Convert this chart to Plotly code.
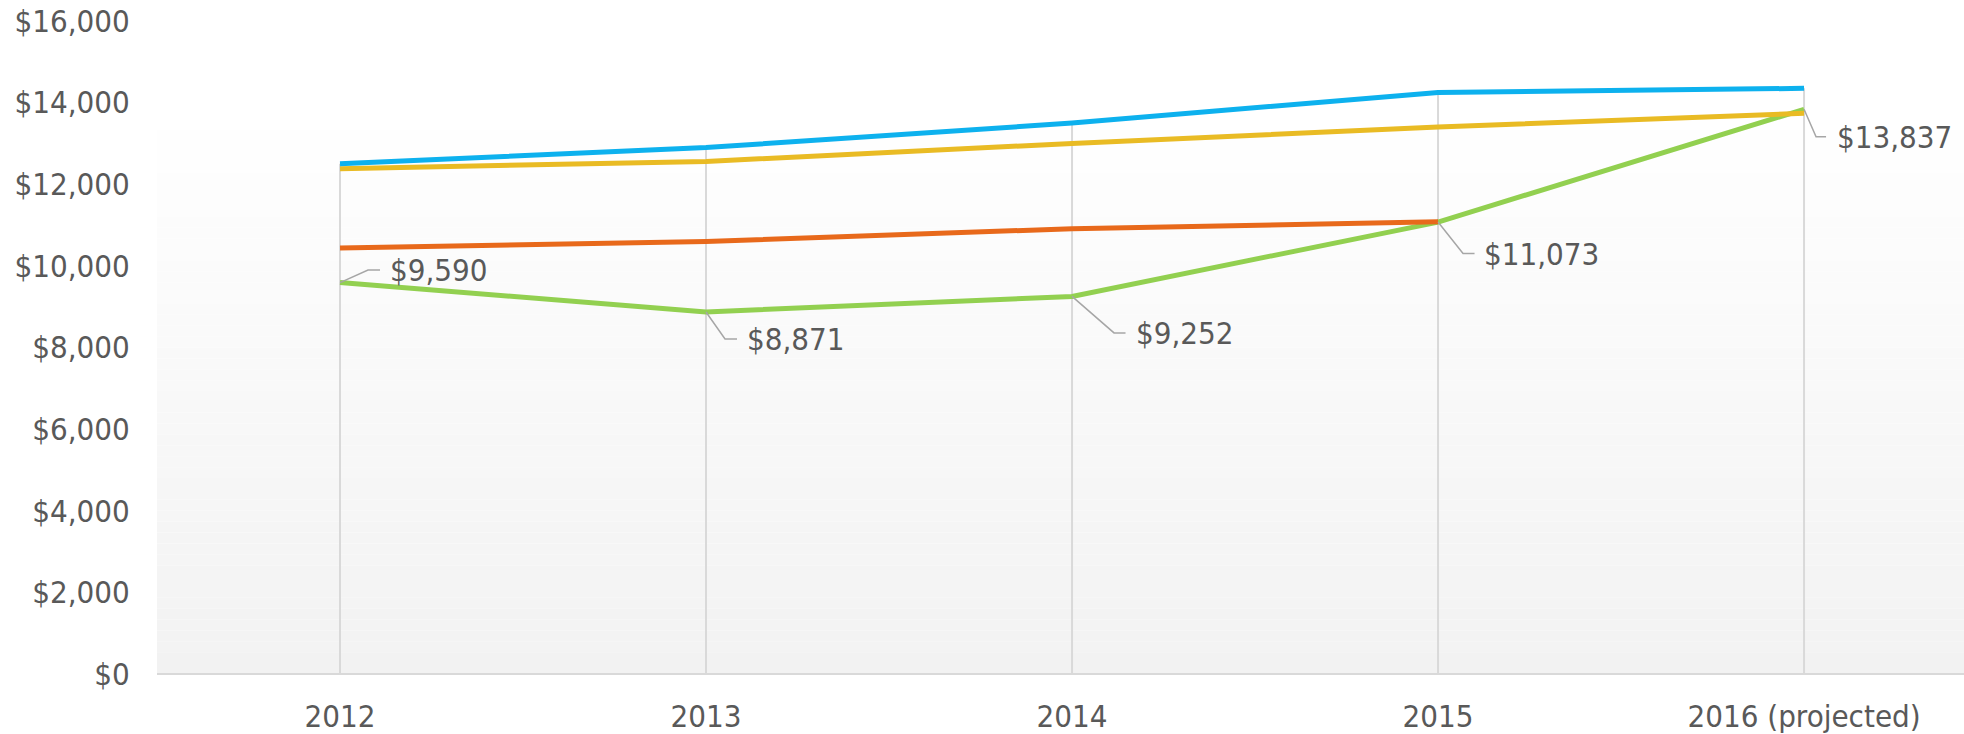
import plotly.graph_objects as go

categories = ["2012", "2013", "2014", "2015", "2016 (projected)"]
blue_vals = [12500, 12900, 13500, 14250, 14350]
gold_vals = [12380, 12560, 13000, 13400, 13740]
orange_vals = [10440, 10600, 10910, 11080, None]
green_vals = [9590, 8871, 9252, 11073, 13837]
green_labels = ["$9,590", "$8,871", "$9,252", "$11,073", "$13,837"]
y_ticks = [0, 2000, 4000, 6000, 8000, 10000, 12000, 14000, 16000]
y_ticktext = ["$0", "$2,000", "$4,000", "$6,000", "$8,000", "$10,000", "$12,000", "$14,000", "$16,000"]

# label leader offsets in pixels (style): elbow dx, dy(up +), horizontal end, text start
label_offsets = [
    (28, 12.5, 40, 48),
    (19, -27, 31, 39),
    (42, -36.5, 53.5, 62),
    (25, -31.5, 36.5, 44),
    (12, -27.5, 22, 31),
]

FONT = "DejaVu Sans Condensed, DejaVu Sans, sans-serif"
TXT = "#595959"
FS = 31

fig = go.Figure()

# drop lines from the top series down to the axis
tops = [max(v for v in (b, g, o, gr) if v is not None)
        for b, g, o, gr in zip(blue_vals, gold_vals, orange_vals, green_vals)]
dx, dy = [], []
for c, t in zip(categories, tops):
    dx += [c, c, None]
    dy += [0, t, None]
fig.add_trace(go.Scatter(x=dx, y=dy, mode="lines", line=dict(color="#d9d9d9", width=2),
                         hoverinfo="skip", showlegend=False))

for vals, col in [(green_vals, "#92d050"), (orange_vals, "#e8691b"),
                  (gold_vals, "#e9bb24"), (blue_vals, "#0db1ee")]:
    fig.add_trace(go.Scatter(x=categories, y=vals, mode="lines",
                             line=dict(color=col, width=5), showlegend=False,
                             connectgaps=False))

# background gradient
n = 60
for i in range(n):
    t = (i + 0.5) / n  # 0 bottom -> 1 top
    v = int(round(242 + (255 - 242) * min(1.0, t * 1.15)))
    fig.add_shape(type="rect", xref="x domain", yref="y domain",
                  x0=0, x1=1, y0=i / n, y1=(i + 1) / n,
                  fillcolor=f"rgb({v},{v},{v})", line=dict(width=0), layer="below")

for i, (v, lab, (ex, ey, hx, tx)) in enumerate(zip(green_vals, green_labels, label_offsets)):
    fig.add_shape(type="path", xref="x", yref="y", xsizemode="pixel", ysizemode="pixel",
                  xanchor=i, yanchor=v,
                  path=f"M 0,0 L {ex},{ey} L {hx},{ey}",
                  line=dict(color="#a6a6a6", width=1.5))
    fig.add_annotation(x=i, y=v, text=lab, showarrow=False, xanchor="left", yanchor="middle",
                       xshift=tx, yshift=ey, font=dict(family=FONT, size=FS, color=TXT))

fig.update_layout(
    width=1964, height=734,
    margin=dict(l=157, r=0, t=21, b=60, autoexpand=False),
    paper_bgcolor="white", plot_bgcolor="white",
    font=dict(family=FONT, size=FS, color=TXT),
    xaxis=dict(type="category", range=[-0.5, 4.437], showgrid=False, zeroline=False,
               showline=False, ticks="outside", ticklen=15, tickcolor="rgba(0,0,0,0)",
               automargin=False,
               tickfont=dict(family=FONT, size=FS, color=TXT)),
    yaxis=dict(range=[0, 16000], tickvals=y_ticks, ticktext=y_ticktext, showgrid=False,
               zeroline=True, zerolinecolor="#d9d9d9", zerolinewidth=2, showline=False,
               ticks="outside", ticklen=20, tickcolor="rgba(0,0,0,0)", automargin=False,
               tickfont=dict(family=FONT, size=FS, color=TXT)),
)

fig.write_html("out.html", config={"displayModeBar": False},
               post_script="document.body.style.margin='0';document.body.style.overflow='hidden';")
